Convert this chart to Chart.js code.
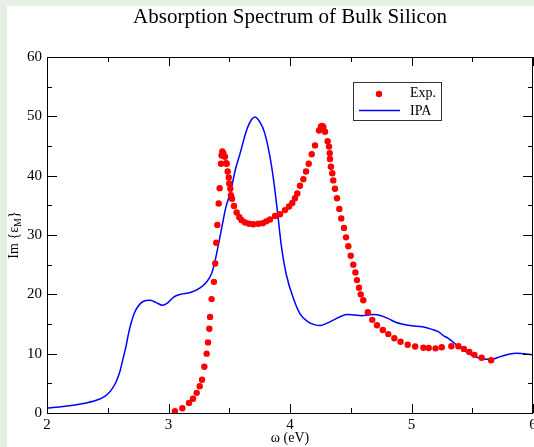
<!DOCTYPE html>
<html lang="en">
<head>
  <meta charset="UTF-8">
  <title>Absorption Spectrum of Bulk Silicon</title>
  <script src="https://cdn.jsdelivr.net/npm/chart.js"></script>
  <style>
    html, body { margin: 0; padding: 0; background: #e5efe3; }
    #wrap { width: 534px; height: 447px; }
  </style>
</head>
<body>
  <div id="wrap"><canvas id="spectrum" width="534" height="447"></canvas></div>

  <script>
    // experimental points (omega in eV, Im eps)
    const expW = [3.053, 3.114, 3.169, 3.202, 3.232, 3.257, 3.276, 3.295, 3.314, 3.325,
      3.336, 3.342, 3.355, 3.374, 3.385, 3.393, 3.402, 3.413, 3.421, 3.432,
      3.437, 3.443, 3.451, 3.465, 3.473, 3.479, 3.487, 3.496, 3.500, 3.509,
      3.514, 3.523, 3.539, 3.561, 3.583, 3.602, 3.630, 3.663, 3.698, 3.739,
      3.775, 3.805, 3.835, 3.877, 3.918, 3.959, 3.992, 4.019, 4.041, 4.060,
      4.082, 4.110, 4.132, 4.154, 4.179, 4.206, 4.239, 4.255, 4.266, 4.274,
      4.288, 4.310, 4.321, 4.327, 4.329, 4.337, 4.348, 4.356, 4.370, 4.387,
      4.406, 4.422, 4.444, 4.461, 4.480, 4.500, 4.521, 4.538, 4.551, 4.568,
      4.582, 4.603, 4.641, 4.677, 4.716, 4.764, 4.809, 4.859, 4.910, 4.969,
      5.030, 5.098, 5.142, 5.198, 5.249, 5.328, 5.386, 5.431, 5.476, 5.518,
      5.577, 5.655];
    const expV = [0.3, 0.8, 1.7, 2.4, 3.4, 4.5, 5.6, 7.8, 10.0, 11.9,
      14.2, 16.2, 19.2, 22.1, 25.2, 28.7, 31.7, 35.3, 37.9, 42.0,
      43.4, 44.1, 43.8, 43.2, 42.1, 42.0, 40.7, 39.7, 38.7, 37.8,
      36.7, 36.1, 34.9, 33.8, 33.0, 32.5, 32.1, 31.9, 31.8, 31.9,
      32.0, 32.3, 32.6, 33.2, 33.5, 34.2, 34.8, 35.4, 36.2, 37.0,
      38.3, 39.4, 40.7, 42.0, 43.6, 45.1, 47.6, 48.3, 48.4, 48.2,
      47.4, 45.8, 44.9, 43.8, 42.8, 41.5, 40.4, 39.2, 37.8, 36.2,
      34.4, 32.8, 31.2, 29.6, 28.1, 26.5, 25.0, 23.7, 22.4, 21.1,
      20.0, 19.0, 17.0, 15.7, 14.8, 14.0, 13.3, 12.6, 12.0, 11.5,
      11.2, 11.0, 10.95, 10.9, 11.07, 11.24, 11.24, 10.8, 10.3, 9.8,
      9.3, 8.9];

    // independent-particle approximation curve
    const ipaW = [2.00, 2.10, 2.20, 2.30, 2.40, 2.45, 2.50, 2.54, 2.57, 2.60,
      2.63, 2.65, 2.67, 2.69, 2.72, 2.75, 2.79, 2.85, 2.90, 2.95,
      2.99, 3.04, 3.10, 3.18, 3.26, 3.31, 3.355, 3.385, 3.41, 3.44,
      3.47, 3.51, 3.55, 3.59, 3.64, 3.685, 3.712, 3.75, 3.79, 3.835,
      3.87, 3.90, 3.93, 3.97, 4.03, 4.08, 4.14, 4.20, 4.25, 4.30,
      4.36, 4.42, 4.47, 4.53, 4.59, 4.64, 4.69, 4.75, 4.81, 4.87,
      4.92, 5.00, 5.09, 5.17, 5.22, 5.26, 5.30, 5.34, 5.38, 5.43,
      5.47, 5.51, 5.55, 5.59, 5.66, 5.73, 5.80, 5.87, 5.94, 6.00];
    const ipaV = [0.85, 1.0, 1.25, 1.6, 2.1, 2.5, 3.2, 4.2, 5.3, 7.0,
      9.5, 11.2, 13.3, 15.0, 16.9, 18.0, 18.8, 19.0, 18.6, 18.15,
      18.5, 19.5, 20.0, 20.3, 21.1, 22.0, 23.5, 25.8, 28.3, 31.4,
      34.5, 37.2, 41.0, 43.8, 47.5, 49.5, 49.9, 49.1, 47.3, 43.2,
      38.5, 33.3, 28.0, 23.3, 19.2, 16.8, 15.5, 14.9, 14.75, 15.1,
      15.7, 16.3, 16.6, 16.5, 16.4, 16.5, 16.6, 16.4, 15.9, 15.3,
      15.0, 14.7, 14.55, 14.1, 13.7, 13.1, 12.6, 12.0, 11.3, 10.6,
      10.0, 9.6, 9.3, 9.1, 9.05, 9.5, 9.9, 10.05, 9.95, 9.8];

    const xTicks = [2, 3, 4, 5, 6];
    const yTicks = [0, 10, 20, 30, 40, 50, 60];

    const SERIF = "'Liberation Serif', 'Times New Roman', serif";

    // background, frame, inward ticks, titles and legend, grace style
    const gracePlugin = {
      id: 'grace',
      beforeDraw(chart) {
        const ctx = chart.ctx;
        ctx.save();
        ctx.fillStyle = '#e5efe3';
        ctx.fillRect(0, 0, chart.width, chart.height);
        ctx.fillStyle = '#ffffff';
        ctx.fillRect(7, 6, chart.width - 7, chart.height - 6);
        ctx.restore();
      },
      afterDraw(chart) {
        const ctx = chart.ctx;
        const a = chart.chartArea;
        const xs = chart.scales.x, ys = chart.scales.y;
        ctx.save();
        ctx.strokeStyle = '#000';
        ctx.lineWidth = 1;
        ctx.strokeRect(a.left + 0.5, a.top + 0.5, a.right - a.left - 1, a.bottom - a.top);

        ctx.beginPath();
        for (let v = 2; v <= 6.001; v += 0.5) {
          const len = Number.isInteger(v) ? 9 : 5;
          const px = Math.round(xs.getPixelForValue(v)) + 0.5;
          ctx.moveTo(px, a.bottom); ctx.lineTo(px, a.bottom - len);
          ctx.moveTo(px, a.top); ctx.lineTo(px, a.top + len);
        }
        for (let v = 0; v <= 60; v += 5) {
          const len = v % 10 === 0 ? 10 : 5;
          const py = Math.round(ys.getPixelForValue(v)) + 0.5;
          ctx.moveTo(a.left, py); ctx.lineTo(a.left + len, py);
          ctx.moveTo(a.right, py); ctx.lineTo(a.right - len, py);
        }
        ctx.stroke();

        // titles
        ctx.fillStyle = '#000';
        ctx.textBaseline = 'middle';
        ctx.textAlign = 'center';
        ctx.font = '21px ' + SERIF;
        ctx.fillText('Absorption Spectrum of Bulk Silicon', 290, 17);
        ctx.font = '14px ' + SERIF;
        ctx.fillText('\u03c9 (eV)', 290, 438);

        ctx.save();
        ctx.translate(14, (a.top + a.bottom) / 2);
        ctx.rotate(-Math.PI / 2);
        ctx.font = '14px ' + SERIF;
        const main = 'Im {\u03b5', sub = 'M', end = '}';
        const w1 = ctx.measureText(main).width;
        ctx.font = '10px ' + SERIF;
        const w2 = ctx.measureText(sub).width;
        ctx.font = '14px ' + SERIF;
        const w3 = ctx.measureText(end).width;
        let x0 = -(w1 + w2 + w3) / 2;
        ctx.textAlign = 'left';
        ctx.fillText(main, x0, 0);
        ctx.font = '10px ' + SERIF;
        ctx.fillText(sub, x0 + w1, 4);
        ctx.font = '14px ' + SERIF;
        ctx.fillText(end, x0 + w1 + w2, 0);
        ctx.restore();

        // legend
        ctx.fillStyle = '#fff';
        ctx.fillRect(353, 82, 88, 38);
        ctx.strokeStyle = '#333';
        ctx.strokeRect(353.5, 82.5, 88, 38);
        ctx.fillStyle = '#ff0000';
        ctx.beginPath();
        ctx.arc(379, 94, 3.2, 0, Math.PI * 2);
        ctx.fill();
        ctx.strokeStyle = '#0000ff';
        ctx.lineWidth = 1.5;
        ctx.beginPath();
        ctx.moveTo(359, 110.5); ctx.lineTo(400, 110.5);
        ctx.stroke();
        ctx.fillStyle = '#000';
        ctx.textAlign = 'left';
        ctx.font = '14px ' + SERIF;
        ctx.fillText('Exp.', 410, 93);
        ctx.fillText('IPA', 410, 111);
        ctx.restore();
      }
    };

    new Chart(document.getElementById('spectrum'), {
      type: 'scatter',
      data: {
        datasets: [{
          label: 'Exp.',
          data: expW.map((w, i) => ({ x: w, y: expV[i] })),
          showLine: false,
          pointRadius: 3.2,
          pointBackgroundColor: '#ff0000',
          pointBorderWidth: 0,
          order: 1
        }, {
          label: 'IPA',
          data: ipaW.map((w, i) => ({ x: w, y: ipaV[i] })),
          showLine: true,
          pointRadius: 0,
          borderColor: '#0000ff',
          borderWidth: 1.5,
          cubicInterpolationMode: 'monotone',
          order: 2
        }]
      },
      options: {
        responsive: false,
        animation: false,
        events: [],
        layout: { autoPadding: false, padding: { top: 57, right: 1, left: 0, bottom: 0 } },
        plugins: { legend: { display: false }, title: { display: false }, tooltip: { enabled: false } },
        scales: {
          x: {
            type: 'linear', min: 2, max: 6,
            grid: { display: false, drawTicks: false },
            border: { display: false },
            afterBuildTicks(s) { s.ticks = xTicks.map(v => ({ value: v })); },
            ticks: { padding: 3, color: '#000', font: { family: SERIF, size: 15 }, maxRotation: 0 },
            afterFit(s) { s.height = 34; s.paddingLeft = 0; s.paddingRight = 0; }
          },
          y: {
            min: 0, max: 60,
            grid: { display: false, drawTicks: false },
            border: { display: false },
            afterBuildTicks(s) { s.ticks = yTicks.map(v => ({ value: v })); },
            ticks: { padding: 5, color: '#000', font: { family: SERIF, size: 15 } },
            afterFit(s) { s.width = 47; s.paddingTop = 0; s.paddingBottom = 0; }
          }
        }
      },
      plugins: [gracePlugin]
    });
  </script>
</body>
</html>
